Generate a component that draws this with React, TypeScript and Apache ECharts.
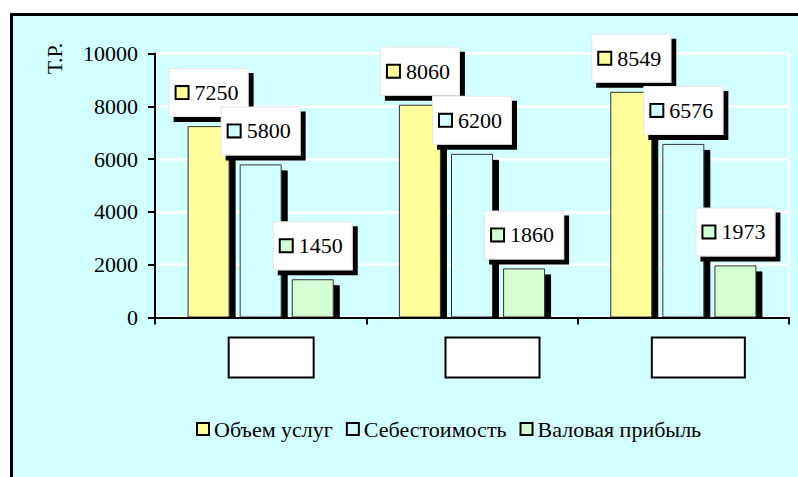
import React, { useEffect, useRef } from "react";
import * as echarts from "echarts";

// ---- data ----
const categories = ["", " ", "  "];
const seriesNames = ["Объем услуг", "Себестоимость", "Валовая прибыль"];
const volumeValues = [7250, 8060, 8549];
const costValues = [5800, 6200, 6576];
const profitValues = [1450, 1860, 1973];
const yMin = 0;
const yMax = 10000;
const yInterval = 2000;
const yAxisTitle = "Т.Р.";

const FONT = "Liberation Serif";
const BG = "#D2FFFF";
const COLORS = ["#FFFF9C", "#D2FFFF", "#D4FFD4"];

export default function App() {
  const ref = useRef<HTMLDivElement>(null);

  useEffect(() => {
    if (!ref.current) return;
    const chart = echarts.init(ref.current, undefined, { renderer: "svg" });

    const seriesData = [volumeValues, costValues, profitValues];

    // empty category boxes (visual style only)
    const boxW = [83, 92, 91];
    const boxShift = [21, 41, 30];
    const xRich: Record<string, any> = {};
    boxW.forEach((w, i) => {
      xRich["s" + i] = { width: boxShift[i], height: 38 };
      xRich["b" + i] = {
        width: w,
        height: 38,
        backgroundColor: "#fff",
        borderColor: "#000",
        borderWidth: 2,
      };
    });

    const option: any = {
      animation: false,
      backgroundColor: "#fff",
      textStyle: { fontFamily: FONT },
      grid: {
        left: 155,
        right: 9,
        top: 53.5,
        bottom: 159.5,
        show: true,
        borderColor: "#fff",
        borderWidth: 2,
        backgroundColor: "transparent",
      },
      graphic: [
        {
          type: "rect",
          z: -10,
          shape: { x: 11.5, y: 14.5, width: 800, height: 480 },
          style: { fill: BG, stroke: "#000", lineWidth: 3 },
        },
        {
          type: "rect",
          z: 3,
          shape: { x: 156, y: 318.6, width: 640, height: 10 },
          style: { fill: BG },
        },
        {
          type: "text",
          x: 54,
          y: 58.5,
          rotation: Math.PI / 2,
          style: {
            text: yAxisTitle,
            fontSize: 22,
            fontFamily: FONT,
            fill: "#000",
            align: "center",
            verticalAlign: "middle",
          },
        },
      ],
      legend: {
        data: seriesNames,
        left: 191,
        top: 413,
        icon: "rect",
        itemWidth: 12,
        itemHeight: 12,
        itemGap: 13,
        textStyle: { fontSize: 22, fontFamily: FONT, color: "#000" },
        itemStyle: {
          borderColor: "#000",
          borderWidth: 2,
          shadowBlur: 0,
          shadowOffsetX: 0,
          shadowOffsetY: 0,
          shadowColor: "rgba(0,0,0,0)",
        },
      },
      xAxis: [
        {
          type: "category",
          data: categories,
          position: "bottom",
          axisLine: { show: true, lineStyle: { color: "#000", width: 2 } },
          axisTick: { show: false },
          axisLabel: {
            interval: 0,
            margin: 21,
            formatter: (_v: string, i: number) => `{s${i}|}{b${i}|}`,
            rich: xRich,
          },
          splitLine: { show: false },
        },
        {
          type: "category",
          data: categories,
          position: "bottom",
          z: 6,
          axisLine: { show: true, lineStyle: { color: "#000", width: 2 } },
          axisTick: { show: true, length: 7, lineStyle: { color: "#000", width: 2 } },
          axisLabel: { show: false },
          splitLine: { show: false },
        },
      ],
      yAxis: {
        type: "value",
        min: yMin,
        max: yMax,
        interval: yInterval,
        axisLine: { show: true, lineStyle: { color: "#000", width: 2 } },
        axisTick: { show: true, length: 7, lineStyle: { color: "#000", width: 2 } },
        axisLabel: {
          fontSize: 22,
          fontFamily: FONT,
          color: "#000",
          margin: 17,
          formatter: (v: number) => String(v),
        },
        splitLine: { show: true, lineStyle: { color: "#fff", width: 2.5 } },
      },
      series: seriesNames.map((name, si) => ({
        name,
        type: "bar",
        xAxisIndex: 0,
        data: seriesData[si],
        barWidth: 42,
        barGap: "24%",
        itemStyle: {
          color: COLORS[si],
          borderColor: "#333",
          borderWidth: 1,
          shadowColor: "#000",
          shadowBlur: 0,
          shadowOffsetX: 6,
          shadowOffsetY: 6,
        },
        label: {
          show: true,
          position: "top",
          distance: 10,
          formatter: (p: any) => `{sq|}{v|${p.value}}`,
          backgroundColor: "#fff",
          borderColor: "#e6e6e6",
          borderWidth: 1,
          padding: [11, 9, 11, 7],
          shadowColor: "#000",
          shadowBlur: 0,
          shadowOffsetX: 5,
          shadowOffsetY: 5,
          rich: {
            sq: {
              width: 11,
              height: 11,
              backgroundColor: COLORS[si],
              borderColor: "#000",
              borderWidth: 2,
            },
            v: {
              fontSize: 22,
              fontFamily: FONT,
              color: "#000",
              lineHeight: 25,
              padding: [0, 0, 0, 7],
            },
          },
        },
      })),
    };

    chart.setOption(option);
    return () => chart.dispose();
  }, []);

  return (
    <div
      ref={ref}
      style={{ position: "absolute", left: 0, top: 0, width: 798, height: 477 }}
    />
  );
}
